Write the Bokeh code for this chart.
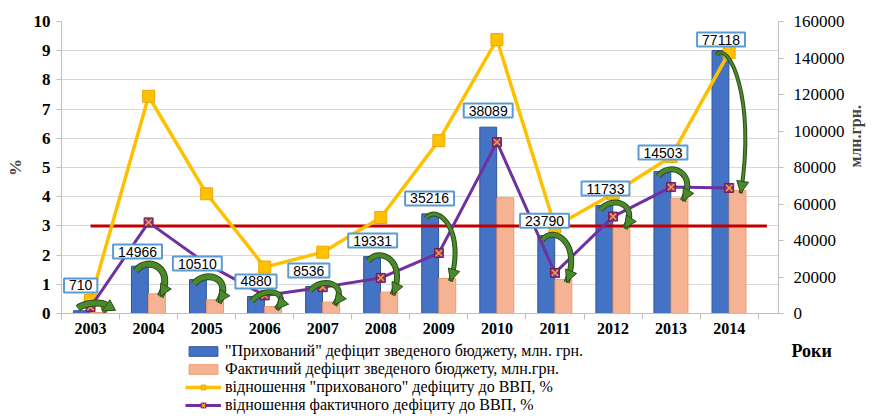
import math
from bokeh.plotting import figure
from bokeh.layouts import column
from bokeh.models import (Range1d, LinearAxis, FixedTicker, ColumnDataSource,
                          Label, Legend, LegendItem, Arrow, NormalHead, BasicTickFormatter)
from bokeh.embed import file_html
from bokeh.resources import INLINE

# ---------------- data ----------------
years = ["2003", "2004", "2005", "2006", "2007", "2008", "2009", "2010", "2011", "2012", "2013", "2014"]
hidden_mln = [1500, 25900, 18600, 9300, 14800, 31200, 54600, 102100, 42700, 59200, 77800, 144100]
actual_mln = [500, 10800, 7500, 3800, 6200, 11700, 19200, 63400, 18600, 48200, 63200, 67400]
hidden_pct = [0.45, 7.44, 4.10, 1.59, 2.10, 3.29, 5.92, 9.38, 2.98, 4.10, 5.38, 8.94]
actual_pct = [0.22, 3.12, 1.70, 0.62, 0.90, 1.22, 2.07, 5.87, 1.39, 3.32, 4.33, 4.30]
label_values = ["710", "14966", "10510", "4880", "8536", "19331", "35216", "38089", "23790", "11733", "14503", "77118"]
threshold_pct = 3
pct_ticks = list(range(0, 11))
mln_ticks = list(range(0, 160001, 20000))
x_title = "Роки"
legend_labels = ['"Прихований" дефіцит зведеного бюджету, млн. грн.',
                 "Фактичний дефіцит зведеного бюджету, млн.грн.",
                 'відношення "прихованого" дефіциту до ВВП, %',
                 "відношення фактичного дефіциту до ВВП, %"]

# ---------------- layout helpers (positions / styles) ----------------
label_y = [0.96, 2.12, 1.71, 1.10, 1.47, 2.50, 3.94, 6.95, 3.18, 4.28, 5.51, 9.38]
label_dx = [-0.17, -0.19, -0.16, -0.15, -0.24, -0.14, -0.16, -0.15, -0.18, -0.13, -0.14, -0.14]
arrow_w = [5, 5, 5, 4, 4, 4, 3, 0, 4, 4, 4, 2]

n = len(years)
centers = [i + 0.5 for i in range(n)]
bounds = [float(i) for i in range(n + 1)]

SERIF = "Liberation Serif"
GREEN = "#4b8a2c"
GREEN_DARK = "#2c4f1a"
BLUE, BLUE_EDGE = "#4472c4", "#2f5597"
SALMON, SALMON_EDGE = "#f6b394", "#f19a6c"
YELLOW, YELLOW_EDGE = "#ffc000", "#e8a800"
PURPLE = "#7030a0"

W = 875
H_MAIN = 340
H_LEG = 76
B_LEFT, B_RIGHT = 61, 95

p = figure(width=W, height=H_MAIN, x_range=Range1d(0, 12.35), y_range=Range1d(0, 10),
           output_backend="svg", toolbar_location=None,
           min_border_left=B_LEFT, min_border_right=B_RIGHT, min_border_top=21, min_border_bottom=27)
p.extra_y_ranges = {"mln": Range1d(0, 160000)}
p.outline_line_color = None
p.background_fill_color = "white"

# grid
p.xgrid.visible = False
p.ygrid.ticker = FixedTicker(ticks=pct_ticks)
p.ygrid.grid_line_color = "#d9d9d9"
p.ygrid.grid_line_width = 1

# left axis
ya = p.yaxis[0]
ya.ticker = FixedTicker(ticks=pct_ticks)
ya.axis_label = "%"
ya.axis_label_text_font = SERIF
ya.axis_label_text_font_style = "bold"
ya.axis_label_text_font_size = "17px"
ya.axis_label_standoff = 6
ya.major_label_text_font = SERIF
ya.major_label_text_font_style = "bold"
ya.major_label_text_font_size = "17px"
ya.major_label_text_color = "black"
ya.major_label_standoff = 6
ya.axis_line_color = "#bfbfbf"
ya.major_tick_line_color = "#bfbfbf"
ya.major_tick_out = 5
ya.major_tick_in = 0
ya.minor_tick_line_color = None

# right axis
ra = LinearAxis(y_range_name="mln", ticker=FixedTicker(ticks=mln_ticks),
                formatter=BasicTickFormatter(use_scientific=False), axis_label="млн.грн.")
ra.axis_label_text_font = SERIF
ra.axis_label_text_font_style = "bold"
ra.axis_label_text_font_size = "16px"
ra.axis_label_standoff = 8
if hasattr(ra, "axis_label_orientation"):
    ra.axis_label_orientation = math.pi / 2
ra.axis_label_text_align = "center"
ra.major_label_text_font = SERIF
ra.major_label_text_font_size = "17px"
ra.major_label_text_color = "black"
ra.major_label_standoff = 10
ra.axis_line_color = "#bfbfbf"
ra.major_tick_line_color = "#bfbfbf"
ra.major_tick_out = 5
ra.major_tick_in = 0
ra.minor_tick_line_color = None
p.add_layout(ra, "right")

# x axis
xa = p.xaxis[0]
xa.ticker = FixedTicker(ticks=centers, minor_ticks=bounds)
xa.major_label_overrides = {c: y for c, y in zip(centers, years)}
xa.major_label_text_font = SERIF
xa.major_label_text_font_style = "bold"
xa.major_label_text_font_size = "16px"
xa.major_label_text_color = "black"
xa.major_label_standoff = 3
xa.major_tick_line_color = None
xa.major_tick_out = 0
xa.major_tick_in = 0
xa.minor_tick_line_color = "#bfbfbf"
xa.minor_tick_out = 6
xa.minor_tick_in = 0
xa.axis_line_color = "#bfbfbf"

# bars
bar_src = ColumnDataSource(dict(
    xb=[c - 0.15 for c in centers], xs=[c + 0.145 for c in centers],
    hidden=hidden_mln, actual=actual_mln))
p.vbar(x="xb", top="hidden", width=0.29, source=bar_src, y_range_name="mln",
       fill_color=BLUE, line_color=BLUE_EDGE, line_width=1)
p.vbar(x="xs", top="actual", width=0.29, source=bar_src, y_range_name="mln",
       fill_color=SALMON, line_color=SALMON_EDGE, line_width=1)

# threshold line
p.line([centers[0], 12.15], [threshold_pct, threshold_pct], line_color="#c00000", line_width=3)

# hidden deficit % line
p.line(centers, hidden_pct, line_color=YELLOW, line_width=3.5)
p.scatter(centers, hidden_pct, marker="square", size=12,
          fill_color=YELLOW, line_color=YELLOW_EDGE, line_width=1)

# actual deficit % line
p.line(centers, actual_pct, line_color=PURPLE, line_width=3)
p.scatter(centers, actual_pct, marker="square", size=9,
          fill_color="#8a2f7a", line_color="#6a1f5a", line_width=1)
p.scatter(centers, actual_pct, marker="x", size=9, line_color="#f2a13a", line_width=1.5)

# green curved arrows (from "hidden" bar to actual bar)
ax = dict(x0=[], y0=[], x1=[], y1=[], cx0=[], cy0=[], cx1=[], cy1=[], w=[], wo=[])
hx = dict(xs=[], ys=[], xe=[], ye=[])
for i in range(n):
    if arrow_w[i] == 0:
        continue
    c = centers[i]
    top = hidden_mln[i]
    bot = actual_mln[i]
    gap = max(top - bot, 0)
    x0, y0 = c - 0.22, max(top - 2500, 3000)
    x1, y1 = c + 0.2, max(bot - 1500, 1500)
    cx0, cy0 = c - 0.02, top + 6000
    cx1, cy1 = c + 0.47, bot + 0.6 * gap + 5000
    ax["x0"].append(x0); ax["y0"].append(y0)
    ax["x1"].append(x1); ax["y1"].append(y1)
    ax["cx0"].append(cx0); ax["cy0"].append(cy0)
    ax["cx1"].append(cx1); ax["cy1"].append(cy1)
    ax["w"].append(arrow_w[i]); ax["wo"].append(arrow_w[i] + 2)
    hx["xs"].append(x1 + 0.12 * (cx1 - x1)); hx["ys"].append(y1 + 0.12 * (cy1 - y1))
    hx["xe"].append(x1); hx["ye"].append(y1)
asrc = ColumnDataSource(ax)
p.bezier(x0="x0", y0="y0", x1="x1", y1="y1", cx0="cx0", cy0="cy0", cx1="cx1", cy1="cy1",
         source=asrc, y_range_name="mln", line_color=GREEN_DARK, line_width="wo")
p.bezier(x0="x0", y0="y0", x1="x1", y1="y1", cx0="cx0", cy0="cy0", cx1="cx1", cy1="cy1",
         source=asrc, y_range_name="mln", line_color=GREEN, line_width="w")
hsrc = ColumnDataSource(hx)
p.add_layout(Arrow(end=NormalHead(size=12, fill_color=GREEN, line_color=GREEN_DARK, line_width=1),
                   x_start="xs", y_start="ys", x_end="xe", y_end="ye", source=hsrc,
                   y_range_name="mln", line_alpha=0))

# value labels in boxes
for c, d, yv, t in zip(centers, label_dx, label_y, label_values):
    p.add_layout(Label(x=c + d, y=yv, text=t, text_align="center", text_baseline="middle",
                       text_font="Liberation Sans", text_font_size="14px", text_color="black",
                       background_fill_color="white", border_line_color="#5b9bd5",
                       border_line_width=2, padding=(5, 2)))

# ---------------- legend strip below (frame aligned with the chart frame) ----------------
FRAME_W = W - B_LEFT - B_RIGHT
lf = figure(width=W, height=H_LEG, x_range=Range1d(0, FRAME_W), y_range=Range1d(0, H_LEG),
            output_backend="svg", toolbar_location=None,
            x_axis_location=None, y_axis_location=None,
            min_border_left=B_LEFT, min_border_right=B_RIGHT, min_border_top=0, min_border_bottom=0)
lf.grid.visible = False
lf.outline_line_color = None

# one hidden point each (outside the visible range) so the legend can draw its glyphs
hid_x, hid_y = [-1000], [-1000]
g_blue = lf.vbar(x=hid_x, top=hid_y, width=1, fill_color=BLUE, line_color=BLUE_EDGE)
g_salmon = lf.vbar(x=hid_x, top=hid_y, width=1, fill_color=SALMON, line_color=SALMON_EDGE)
g_yl = lf.line(x=hid_x, y=hid_y, line_color=YELLOW, line_width=3.5)
g_ys = lf.scatter(x=hid_x, y=hid_y, marker="square", size=11, fill_color=YELLOW, line_color=YELLOW_EDGE)
g_pl = lf.line(x=hid_x, y=hid_y, line_color=PURPLE, line_width=3)
g_ps = lf.scatter(x=hid_x, y=hid_y, marker="square", size=9, fill_color="#8a2f7a", line_color="#6a1f5a")
g_px = lf.scatter(x=hid_x, y=hid_y, marker="x", size=9, line_color="#f2a13a", line_width=1.5)

legend = Legend(items=[
    LegendItem(label=legend_labels[0], renderers=[g_blue]),
    LegendItem(label=legend_labels[1], renderers=[g_salmon]),
    LegendItem(label=legend_labels[2], renderers=[g_yl, g_ys]),
    LegendItem(label=legend_labels[3], renderers=[g_pl, g_ps, g_px]),
], location=(186 - B_LEFT - 1, 2))
legend.label_text_font = SERIF
legend.label_text_font_size = "16px"
legend.label_text_color = "black"
legend.glyph_width = 36
legend.glyph_height = 12
legend.label_height = 16
legend.label_standoff = 4
legend.spacing = 0
legend.padding = 1
legend.margin = 0
legend.border_line_color = None
legend.background_fill_alpha = 0
lf.add_layout(legend, "center")

# axis title "Роки" at the right end of the category axis
rk_pos = H_LEG - 10
rk = LinearAxis(ticker=FixedTicker(ticks=[rk_pos]), major_label_overrides={rk_pos: x_title})
rk.axis_line_color = None
rk.major_tick_line_color = None
rk.major_tick_out = 0
rk.major_tick_in = 0
rk.minor_tick_line_color = None
rk.major_label_standoff = 13
rk.major_label_text_font = SERIF
rk.major_label_text_font_style = "bold"
rk.major_label_text_font_size = "18px"
rk.major_label_text_color = "black"
lf.add_layout(rk, "right")

layout = column(p, lf, spacing=0)
open("out.html", "w").write(file_html(layout, INLINE))
